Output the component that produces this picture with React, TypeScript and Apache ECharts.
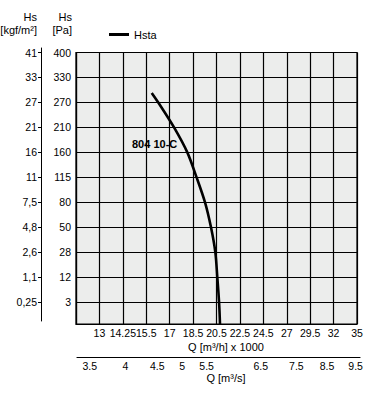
import React, { useEffect, useRef } from "react";
import * as echarts from "echarts";

// ---- data ----
const qTicks = [13, 14.25, 15.5, 17, 18.5, 20.5, 22.5, 24.5, 27, 29.5, 32, 35]; // Q [m3/h] x 1000, gridlines 1..12
const paTicks = [3, 12, 28, 50, 80, 115, 160, 210, 270, 330, 400]; // Hs [Pa], gridlines 1..11
const kgfTicks = ["0,25", "1,1", "2,6", "4,8", "7,5", "11", "16", "21", "27", "33", "41"]; // Hs [kgf/m2]
const qsTicks = ["3.5", "4", "4.5", "5", "5.5", "6.5", "7.5", "8.5", "9.5"]; // Q [m3/s]
const qsAt = [0.59, 2.11, 3.47, 4.53, 5.58, 7.89, 9.41, 10.72, 11.94]; // where each m3/s label sits, in Q-gridline units

const curveQ = [15.85, 16.27, 17.28, 18.13, 18.8, 19.52, 20.03, 20.4, 20.57, 20.72, 20.8];
const curvePa = [293, 270, 210, 160, 115, 80, 50, 28, 12, 3, 0];

// ---- layout ----
const W = 387;
const H = 402;
const GL = 76, GR = 357, GT = 52.5, GB = 324;
const Y_MIN = 0.13;
const Y_MAX = 11;
const X_MAX = 12;
const FONT = '"Liberation Sans Narrow", "Liberation Sans", Arial, sans-serif';

// piecewise scales built from the tick tables
function qToIdx(q: number): number {
  const t = qTicks;
  if (q <= t[0]) return 1 + (q - t[0]) / (t[1] - t[0]);
  for (let i = 0; i < t.length - 1; i++) {
    if (q <= t[i + 1]) return i + 1 + (q - t[i]) / (t[i + 1] - t[i]);
  }
  return t.length;
}
function paToIdx(p: number): number {
  const t = paTicks;
  if (p <= t[0]) return Y_MIN + (p / t[0]) * (1 - Y_MIN);
  for (let i = 0; i < t.length - 1; i++) {
    if (p <= t[i + 1]) return i + 1 + (p - t[i]) / (t[i + 1] - t[i]);
  }
  return t.length;
}

export default function App() {
  const ref = useRef<HTMLDivElement>(null);
  useEffect(() => {
    if (!ref.current) return;
    const chart = echarts.init(ref.current, null, { renderer: "svg" });
    const pxPerY = (GB - GT) / (Y_MAX - Y_MIN);
    const pxPerX = (GR - GL) / X_MAX;
    // kgf axis spans y 48..321
    const kTop = 48, kBot = 321;
    const kMin = Y_MIN + (GB - kBot) / pxPerY;
    const kMax = Y_MIN + (GB - kTop) / pxPerY;
    // m3/s axis spans x 77..360
    const sL = 77, sR = 360;
    const sMin = (sL - GL) / pxPerX;
    const sMax = (sR - GL) / pxPerX;

    const yCustom = paTicks.map((_, i) => i + 1);
    const data = curveQ.map((q, i) => [qToIdx(q), paToIdx(curvePa[i])]);
    const txt = { fontFamily: FONT, fontSize: 11, fill: "#000" };

    chart.setOption({
      animation: false,
      textStyle: { fontFamily: FONT },
      grid: [
        {
          left: GL, right: W - GR, top: GT, bottom: H - GB,
          show: true, backgroundColor: "#ECEDEC", borderColor: "#000", borderWidth: 1.2,
        },
        { left: 41, width: 1, top: kTop, bottom: H - kBot },
        { left: sL, right: W - sR, top: 356, height: 1 },
      ],
      legend: {
        data: ["Hsta"],
        left: 109, top: 29, padding: 0,
        icon: "rect", itemWidth: 20, itemHeight: 3,
        textStyle: { fontFamily: FONT, fontSize: 11, color: "#000" },
      },
      xAxis: [
        {
          gridIndex: 0, type: "value", min: 0, max: X_MAX, interval: 1,
          axisLine: { show: true, lineStyle: { color: "#000", width: 1.2 } },
          axisTick: { show: false },
          splitLine: { show: true, lineStyle: { color: "#000", width: 1.2 } },
          axisLabel: {
            margin: 3, color: "#000", fontSize: 10.5, fontFamily: FONT,
            formatter: (v: number) => (v >= 1 ? String(qTicks[Math.round(v) - 1]) : ""),
          },
        },
        { gridIndex: 1, type: "value", min: 0, max: 1, show: false },
        {
          gridIndex: 2, type: "value", min: sMin, max: sMax, position: "bottom",
          axisLine: { show: true, lineStyle: { color: "#000", width: 1.2 } },
          axisTick: { show: false },
          splitLine: { show: false },
          axisLabel: {
            margin: 3, color: "#000", fontSize: 10.5, fontFamily: FONT,
            customValues: qsAt,
            formatter: (v: number) => {
              const i = qsAt.findIndex((p) => Math.abs(p - v) < 1e-6);
              return i >= 0 ? qsTicks[i] : "";
            },
          },
        },
      ],
      yAxis: [
        {
          gridIndex: 0, type: "value", min: Y_MIN, max: Y_MAX,
          axisLine: { show: true, lineStyle: { color: "#000", width: 1.2 } },
          axisTick: { show: false, customValues: yCustom },
          splitLine: { show: true, lineStyle: { color: "#000", width: 1.2 } },
          axisLabel: {
            margin: 5, color: "#000", fontSize: 10.5, fontFamily: FONT,
            customValues: yCustom,
            formatter: (v: number) => String(paTicks[Math.round(v) - 1]),
          },
        },
        {
          gridIndex: 1, type: "value", min: kMin, max: kMax, position: "left",
          axisLine: { show: true, lineStyle: { color: "#000", width: 1 } },
          axisTick: { show: true, length: 3, customValues: yCustom, lineStyle: { color: "#000" } },
          splitLine: { show: false },
          axisLabel: {
            margin: 4, color: "#000", fontSize: 10.5, fontFamily: FONT,
            customValues: yCustom,
            formatter: (v: number) => kgfTicks[Math.round(v) - 1],
          },
        },
        { gridIndex: 2, type: "value", min: 0, max: 1, show: false },
      ],
      series: [
        {
          name: "Hsta", type: "line", xAxisIndex: 0, yAxisIndex: 0,
          data, showSymbol: false, smooth: 0.3,
          itemStyle: { color: "#000" },
          lineStyle: { color: "#000", width: 2.6 },
        },
      ],
      graphic: [
        { type: "text", right: W - 37, top: 11, style: { ...txt, text: "Hs", textAlign: "right" } },
        { type: "text", right: W - 37, top: 24, style: { ...txt, text: "[kgf/m²]", textAlign: "right" } },
        { type: "text", right: W - 72, top: 11, style: { ...txt, text: "Hs", textAlign: "right" } },
        { type: "text", right: W - 72, top: 24, style: { ...txt, text: "[Pa]", textAlign: "right" } },
        { type: "text", left: 132, top: 138, style: { ...txt, text: "804 10-C", fontWeight: "bold" } },
        { type: "text", x: 226, y: 347, style: { ...txt, text: "Q [m³/h] x 1000", textAlign: "center", textVerticalAlign: "middle" } },
        { type: "text", x: 226, y: 378, style: { ...txt, text: "Q [m³/s]", textAlign: "center", textVerticalAlign: "middle" } },
      ],
    });
    return () => chart.dispose();
  }, []);
  return <div ref={ref} style={{ width: W, height: H, position: "absolute", left: 0, top: 0 }} />;
}
